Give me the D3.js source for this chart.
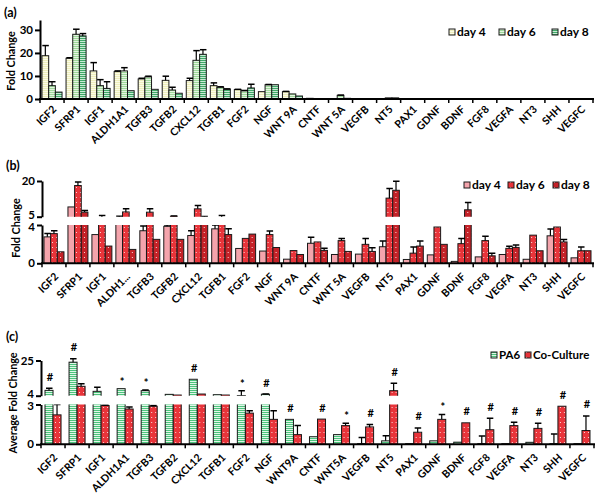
<!DOCTYPE html>
<html><head><meta charset="utf-8">
<script src="https://cdn.jsdelivr.net/npm/d3@7"></script>
<style>
body{margin:0;background:#fff;}
text{font-family:Lato,"Open Sans",sans-serif;font-weight:700;fill:#000;}
</style></head>
<body><svg id="chart" width="602" height="494"></svg>
<script>
// ---------- DATA ----------
const genesA = ["IGF2","SFRP1","IGF1","ALDH1A1","TGFB3","TGFB2","CXCL12","TGFB1","FGF2","NGF","WNT 9A","CNTF","WNT 5A","VEGFB","NT5","PAX1","GDNF","BDNF","FGF8","VEGFA","NT3","SHH","VEGFC"];
const genesB = ["IGF2","SFRP1","IGF1","ALDH1...","TGFB3","TGFB2","CXCL12","TGFB1","FGF2","NGF","WNT 9A","CNTF","WNT 5A","VEGFB","NT5","PAX1","GDNF","BDNF","FGF8","VEGFA","NT3","SHH","VEGFC"];
const genesC = ["IGF2","SFRP1","IGF1","ALDH1A1","TGFB3","TGFB2","CXCL12","TGFB1","FGF2","NGF","WNT9A","CNTF","WNT5A","VEGFB","NT5","PAX1","GDNF","BDNF","FGF8","VEGFA","NT3","SHH","VEGFC"];

const seriesAB = ["day 4","day 6","day 8"];
const seriesC = ["PA6","Co-Culture"];

// Panel (a) PA6 alone
const aDay4    = [18.8,17.7,12.2,11.9,8.7,8.1,8.0,5.8,4.1,3.2,3.2,0.3,0.2,0.1,0.2,0.05,0.05,0.05,0.05,0.05,0.05,0.05,0.05];
const aDay4Err = [4.4,0.2,3.6,0.3,0.3,1.8,1.0,1.2,0.1,0,0.1,0,0,0,0,0,0,0,0,0,0,0,0];
const aDay6    = [5.8,28.1,5.8,12.2,9.6,3.9,16.8,5.1,3.6,6.2,2.2,0.2,1.6,0.1,0.5,0.05,0.05,0.05,0.05,0.05,0.05,0.05,0.05];
const aDay6Err = [1.7,2.2,2.6,1.4,0.3,1.2,4.2,0.2,0.1,0.1,0,0,0.1,0,0,0,0,0,0,0,0,0,0];
const aDay8    = [3.0,27.4,4.6,3.6,4.2,2.5,19.4,4.2,4.8,6.2,1.3,0.2,0.3,0.1,0.5,0.05,0.05,0.05,0.05,0.05,0.05,0.05,0.05];
const aDay8Err = [0,1.0,2.9,0,0,0,2.0,0.2,1.6,0,0,0,0,0,0,0,0,0,0,0,0,0,0];

// Panel (b) co-culture
const bDay4    = [2.76,9.1,3.0,4.8,3.4,3.86,2.9,3.6,1.55,1.28,0.43,2.09,0.92,0.96,1.73,0.4,0.88,0.2,0.67,0.92,0.42,2.87,0.57];
const bDay4Err = [0.34,0,0,0.4,0.5,0.14,0.5,0.4,0,0,0,0.64,0,0,0.61,0,0,0,0,0,0,0.71,0];
const bDay6    = [3.1,18.1,4.5,7.0,6.9,5.2,8.3,4.5,2.6,3.0,1.33,2.23,2.37,1.98,12.8,1.06,3.79,2.05,2.37,1.56,2.94,3.79,1.31];
const bDay6Err = [0.3,1.5,1.0,1.3,1.4,0.1,1.4,1.0,0,0.38,0,0,0.21,0.6,4.0,0.64,0,0.53,0.46,0.21,0,0,0.39];
const bDay8    = [1.2,6.9,1.8,1.45,2.5,2.5,4.6,3.0,3.05,1.65,0.92,1.35,1.24,1.24,16.1,1.8,1.98,7.9,0.78,1.66,1.31,2.23,1.31];
const bDay8Err = [0,0.7,0,0,0,0,0.5,0.6,0,0,0,0.21,0,0.39,3.8,0.54,0,3.1,0.28,0.25,0,0.25,0];

// Panel (c) average fold change
const cPA6      = [7.2,24,6.6,8.2,7.0,4.8,13.8,4.6,4.1,4.9,1.88,0.57,0.73,0.05,0.26,0.05,0.26,0.16,0.05,0.05,0.15,0.05,0.05];
const cPA6Err   = [1.2,2,2.4,0,0.4,0,0,0,2.9,0.1,0,0,0,0.47,0.39,0,0,0,0.58,0,0,0.73,0];
const cCo       = [2.22,9.6,2.92,2.66,2.87,4.4,5.0,4.4,2.35,1.88,0.73,1.9,1.41,1.31,7.0,0.91,1.88,1.62,1.1,1.41,1.2,2.87,1.04];
const cCoErr    = [0.78,1.6,0.05,0.16,0.05,0,0,0,0.18,0.65,0.68,0,0.18,0.18,4.4,0.32,0.37,0,0.86,0.26,0.39,0,1.1];
const cSig      = ["#","#","","*","*","","#","","*","#","#","#","*","#","#","#","*","#","#","#","#","#","#"];

const ticksA = [0,10,20,30];
const ticksBLow = [0,4], ticksBHigh = [5,20];
const ticksCLow = [0,3], ticksCHigh = [4,25];

// ---------- DRAW ----------
const svg = d3.select("#chart");
const defs = svg.append("defs");

function stripePattern(id, base, line){
  const p = defs.append("pattern").attr("id",id).attr("patternUnits","userSpaceOnUse").attr("width",4).attr("height",2);
  p.append("rect").attr("width",4).attr("height",2).attr("fill",base);
  p.append("rect").attr("y",1).attr("width",4).attr("height",1).attr("fill",line);
}
function dotPattern(id, base){
  const p = defs.append("pattern").attr("id",id).attr("patternUnits","userSpaceOnUse").attr("width",4).attr("height",5);
  p.append("rect").attr("width",4).attr("height",5).attr("fill",base);
  p.append("rect").attr("x",2).attr("y",2).attr("width",1).attr("height",1).attr("fill","#f8dada");
}
stripePattern("pA4","#eeeebc","#fbfbe6");
stripePattern("pA6","#9ed89a","#e4f4e0");
stripePattern("pA8","#40a868","#c8ead4");
defs.append("pattern").attr("id","pB4").attr("patternUnits","userSpaceOnUse").attr("width",4).attr("height",4)
  .append("rect").attr("width",4).attr("height",4).attr("fill","#f4a4ac");
dotPattern("pB6","#e8343a");
dotPattern("pB8","#c42228");
stripePattern("pC1","#4cc47c","#e0f6e8");
dotPattern("pC2","#e8343a");

const fillsA = ["url(#pA4)","url(#pA6)","url(#pA8)"];
const fillsB = ["url(#pB4)","url(#pB6)","url(#pB8)"];
const fillsC = ["url(#pC1)","url(#pC2)"];

let clipN = 0;
function clipRect(x,y,w,h){
  const id = "clip"+(clipN++);
  defs.append("clipPath").attr("id",id).append("rect").attr("x",x).attr("y",y).attr("width",w).attr("height",h);
  return "url(#"+id+")";
}

function drawPanel(cfg){
  const x = d3.scaleBand().domain(cfg.genes).range([cfg.x0,cfg.x1]).paddingInner(0).paddingOuter(0);
  const xs = d3.scaleBand().domain(cfg.series).range([0,x.bandwidth()]).paddingInner(0).paddingOuter(cfg.pad);
  const g = svg.append("g");
  const rows = cfg.genes.map((gn,i)=>({gene:gn,i, vals:cfg.values.map((v,k)=>({k,v:v[i],e:cfg.errs[k][i]}))}));
  cfg.sections.forEach(sec=>{
    const sg = g.append("g").attr("clip-path", clipRect(cfg.x0, sec.clipTop, cfg.x1-cfg.x0, sec.clipBottom-sec.clipTop));
    const y = sec.scale;
    const grp = sg.selectAll("g").data(rows).join("g").attr("transform",d=>`translate(${x(d.gene)},0)`);
    grp.selectAll("rect").data(d=>d.vals.filter(o=>o.v>sec.min)).join("rect")
      .attr("x",o=>xs(cfg.series[o.k])).attr("width",xs.bandwidth())
      .attr("y",o=>y(o.v)).attr("height",o=>Math.max(0,(sec.clipBottom+3)-y(o.v)))
      .attr("fill",o=>cfg.fills[o.k]).attr("stroke","#1a1a1a").attr("stroke-width",1);
    const eb = grp.selectAll("g.err").data(d=>d.vals.filter(o=>o.e>0)).join("g").attr("class","err");
    const cxf = o=>xs(cfg.series[o.k])+xs.bandwidth()/2;
    eb.append("line").attr("x1",cxf).attr("x2",cxf)
      .attr("y1",o=>y(o.v)).attr("y2",o=>y(o.v+o.e)).attr("stroke","#000").attr("stroke-width",1.2);
    eb.append("line").attr("x1",o=>cxf(o)-3).attr("x2",o=>cxf(o)+3.5)
      .attr("y1",o=>y(o.v+o.e)).attr("y2",o=>y(o.v+o.e)).attr("stroke","#000").attr("stroke-width",1.5);
  });
  // y-axis segments
  cfg.sections.forEach(sec=>{
    const ax = d3.axisLeft(sec.scale).tickValues(sec.ticks).tickSize(5).tickSizeOuter(0).tickFormat(d3.format("d"));
    const a = g.append("g").attr("transform",`translate(${cfg.x0},0)`).call(ax);
    a.select(".domain").attr("stroke","#000").attr("stroke-width",2);
    a.selectAll(".tick line").attr("stroke","#000").attr("stroke-width",2);
    a.selectAll(".tick text").attr("font-size",11.5).attr("x",-7).attr("font-family","Lato").attr("font-weight",700)
      .attr("dy", d=> (sec.nudge && sec.nudge[d]!==undefined) ? sec.nudge[d] : "0.32em");
  });
  // x axis
  const baseY = cfg.sections[0].scale(0);
  g.append("line").attr("x1",cfg.x0-1).attr("x2",cfg.x1+1).attr("y1",baseY).attr("y2",baseY).attr("stroke","#000").attr("stroke-width",2);
  const bounds = cfg.genes.map(d=>x(d)).concat([cfg.x1]);
  g.selectAll("line.xt").data(bounds).join("line").attr("class","xt")
    .attr("x1",d=>d).attr("x2",d=>d).attr("y1",baseY).attr("y2",baseY+4).attr("stroke","#000").attr("stroke-width",1.5);
  g.selectAll("text.xl").data(cfg.genes).join("text").attr("class","xl")
    .attr("transform",d=>`translate(${x(d)+x.bandwidth()/2+cfg.lx},${baseY+cfg.ly}) rotate(-45)`)
    .attr("text-anchor","end").attr("font-size",10.5).text(d=>d);
  // y title
  g.append("text").attr("transform",`translate(${cfg.tx},${cfg.ty}) rotate(-90)`).attr("text-anchor","middle")
    .attr("font-size",10.8).text(cfg.title);
  // panel label
  g.append("text").attr("x",cfg.px).attr("y",cfg.py).attr("font-size",12.5).text(cfg.label);
  // legend
  const lg = g.append("g");
  cfg.series.forEach((s,k)=>{
    lg.append("rect").attr("x",cfg.legX[k]).attr("y",cfg.legY-7).attr("width",6).attr("height",6)
      .attr("fill",cfg.fills[k]).attr("stroke","#1a1a1a").attr("stroke-width",1);
    lg.append("text").attr("x",cfg.legX[k]+8).attr("y",cfg.legY).attr("font-size",cfg.legFont).text(s);
  });
  return {x,xs,rows};
}

// Panel (a)
const yA = d3.scaleLinear().domain([0,34.3]).range([99,20]);
drawPanel({genes:genesA, series:seriesAB, x0:40, x1:593, pad:0.3,
  values:[aDay4,aDay6,aDay8], errs:[aDay4Err,aDay6Err,aDay8Err], fills:fillsA,
  sections:[{scale:yA, min:0, clipTop:0, clipBottom:99, ticks:ticksA}],
  lx:5, ly:11, title:"Fold Change", tx:15, ty:61, label:"(a)", px:4, py:17,
  legX:[449,499,552], legY:36, legFont:12});

// Panel (b)
const yBLow = d3.scaleLinear().domain([0,4]).range([263.3,225]);
const yBHigh = d3.scaleLinear().domain([5,20]).range([216.7,181]);
drawPanel({genes:genesB, series:seriesAB, x0:42, x1:593, pad:0.3,
  values:[bDay4,bDay6,bDay8], errs:[bDay4Err,bDay6Err,bDay8Err], fills:fillsB,
  sections:[{scale:yBLow, min:0, clipTop:225, clipBottom:263.3, ticks:ticksBLow, nudge:{4:"0.45em"}},
            {scale:yBHigh, min:5, clipTop:150, clipBottom:216.7, ticks:ticksBHigh, nudge:{5:"0.12em"}}],
  lx:5, ly:14, title:"Fold Change", tx:20, ty:228, label:"(b)", px:6, py:170,
  legX:[464,508,553], legY:189, legFont:12});

// Panel (c)
const yCLow = d3.scaleLinear().domain([0,3]).range([444.3,404.5]);
const yCHigh = d3.scaleLinear().domain([4,25]).range([395.7,360.5]);
const pc = drawPanel({genes:genesC, series:seriesC, x0:41, x1:594, pad:0.5,
  values:[cPA6,cCo], errs:[cPA6Err,cCoErr], fills:fillsC,
  sections:[{scale:yCLow, min:0, clipTop:404.5, clipBottom:444.3, ticks:ticksCLow, nudge:{3:"0.45em"}},
            {scale:yCHigh, min:4, clipTop:330, clipBottom:395.7, ticks:ticksCHigh, nudge:{4:"0.15em"}}],
  lx:5, ly:14, title:"Average Fold Change", tx:17, ty:403, label:"(c)", px:6, py:341,
  legX:[491,525], legY:359, legFont:11.5});

// significance marks for panel (c)
function yC(v){ return v>4 ? yCHigh(v) : yCLow(Math.min(v,3)); }
const sigG = svg.append("g");
pc.rows.forEach((r,i)=>{
  if(!cSig[i]) return;
  const tops = [cPA6[i]+cPA6Err[i], cCo[i]+cCoErr[i]];
  const k = yC(tops[0]) < yC(tops[1]) ? 0 : 1;
  const cx = pc.x(r.gene)+pc.xs(seriesC[k])+pc.xs.bandwidth()/2+1;
  const star = cSig[i]==="*";
  sigG.append("text").attr("x",cx).attr("y",yC(tops[k])-(star?3:7.5)).attr("text-anchor","middle")
    .attr("font-size",11).attr("font-weight",star?400:700).text(cSig[i]);
});
</script></body></html>
